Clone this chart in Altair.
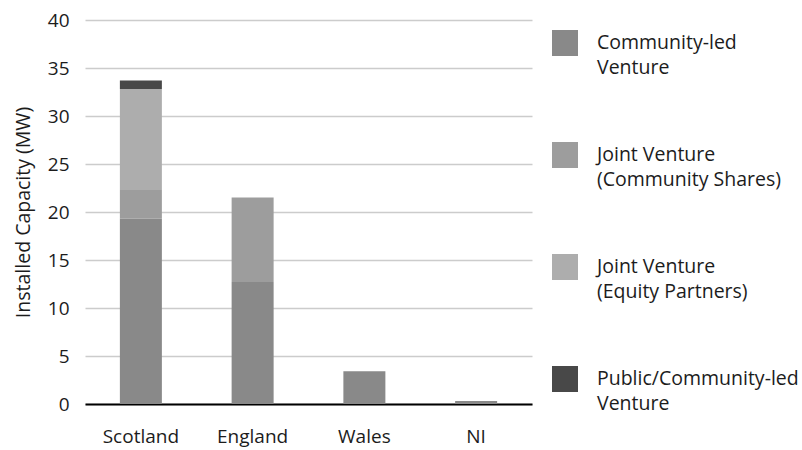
import altair as alt
import pandas as pd

regions = ["Scotland", "England", "Wales", "NI"]
series = [
    "Community-led\nVenture",
    "Joint Venture\n(Community Shares)",
    "Joint Venture\n(Equity Partners)",
    "Public/Community-led\nVenture",
]
community_led = [19.3, 12.7, 3.4, 0.3]
jv_shares = [3.0, 8.8, 0.0, 0.0]
jv_equity = [10.5, 0.0, 0.0, 0.0]
public_comm = [0.9, 0.0, 0.0, 0.0]
colors = ["#898989", "#9d9d9d", "#adadad", "#484848"]

rows = []
for i, r in enumerate(regions):
    for k, (s, vals) in enumerate(zip(series, [community_led, jv_shares, jv_equity, public_comm])):
        rows.append({"region": r, "type": s, "value": vals[i], "order": k})
df = pd.DataFrame(rows)

FONT = "Open Sans"
TXT = "#1c1c1c"

chart = alt.Chart(df).mark_bar(size=42).encode(
    x=alt.X("region:N", sort=regions, title=None,
            scale=alt.Scale(paddingInner=0, paddingOuter=0),
            axis=alt.Axis(labelAngle=0, labelFontSize=19, labelPadding=23,
                          ticks=False, domain=True, domainColor="#000000",
                          domainWidth=2, labelColor=TXT, labelFont=FONT,
                          grid=False)),
    y=alt.Y("value:Q", stack="zero", title="Installed Capacity (MW)",
            scale=alt.Scale(domain=[0, 40], nice=False),
            axis=alt.Axis(values=[0, 5, 10, 15, 20, 25, 30, 35, 40], ticks=False,
                          domain=False, labelFontSize=19, labelPadding=16,
                          labelColor=TXT, labelFont=FONT,
                          titleFontSize=19.5, titleFont=FONT, titleFontWeight="normal",
                          titleColor=TXT, titlePadding=14,
                          gridColor="#cccccc", gridWidth=1.5)),
    color=alt.Color("type:N", sort=series, title=None,
                    scale=alt.Scale(domain=series, range=colors),
                    legend=alt.Legend(orient="none", legendX=467, legendY=10,
                                      symbolType="square", symbolSize=676,
                                      symbolStrokeWidth=0, labelFontSize=19.5,
                                      labelFont=FONT, labelColor=TXT,
                                      labelLimit=300, rowPadding=64,
                                      labelOffset=19,
                                      labelExpr="split(datum.label, '\\n')")),
    order=alt.Order("order:Q"),
).properties(
    width=447, height=384,
    background="white",
    autosize=alt.AutoSizeParams(type="none"),
    padding={"left": 85, "top": 20, "right": 270, "bottom": 46},
).configure(
    style={"guide-label": {"lineHeight": 25}},
).configure_view(stroke=None)

chart.save("out.html", embed_options={"renderer": "svg", "actions": False})
